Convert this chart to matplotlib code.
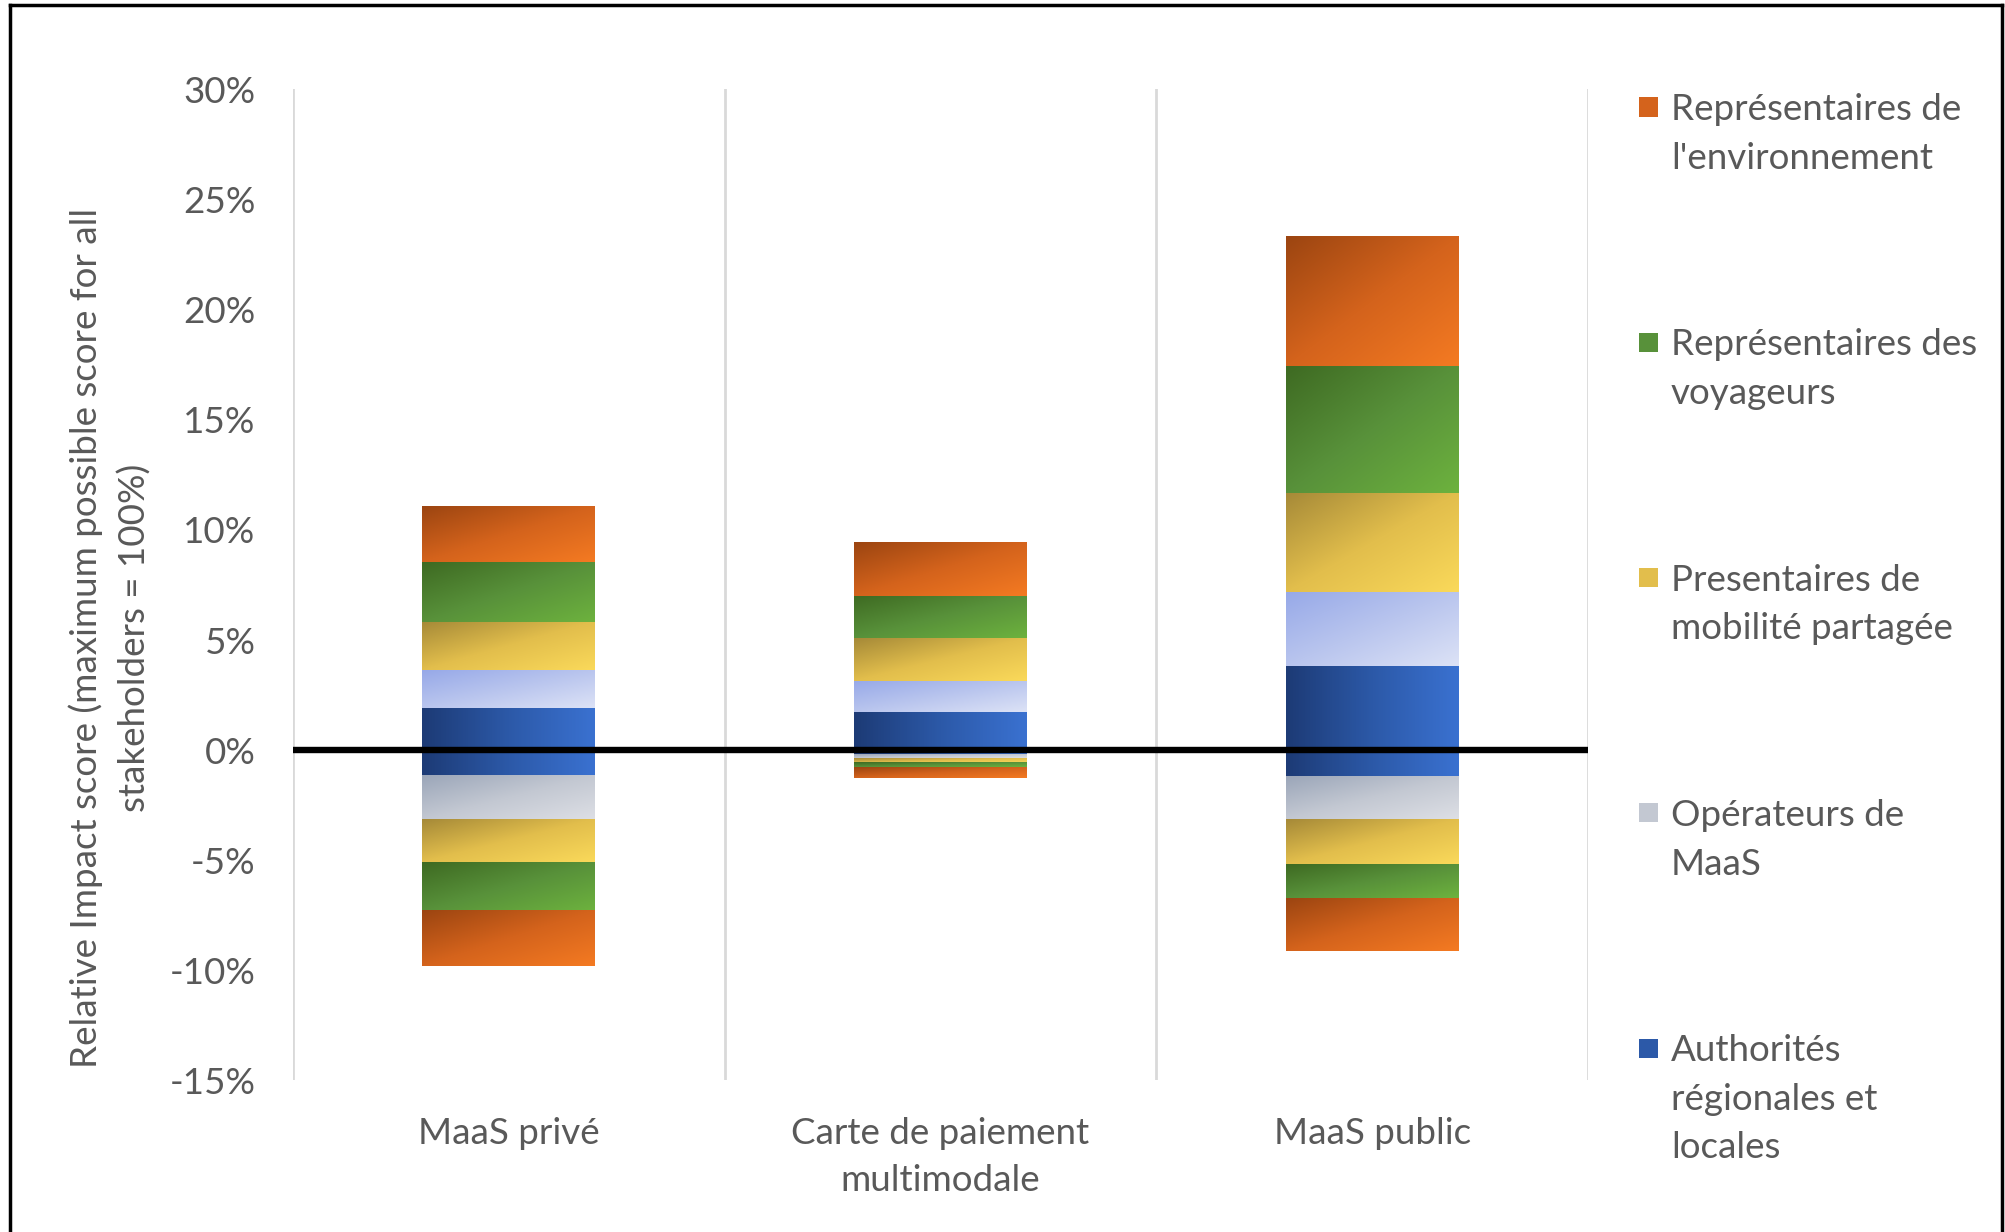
import matplotlib.pyplot as plt
import numpy as np
from matplotlib.colors import LinearSegmentedColormap
from matplotlib.patches import Rectangle
from matplotlib.lines import Line2D

plt.rcParams['font.family'] = ['Lato', 'DejaVu Sans']

categories = ['MaaS privé', 'Carte de paiement\nmultimodale', 'MaaS public']
stakeholders = ['Authorités\nrégionales et\nlocales', 'Opérateurs de\nMaaS',
                'Presentaires de\nmobilité partagée', 'Représentaires des\nvoyageurs',
                "Représentaires de\nl'environnement"]

# positive contributions (%), stacked upward from 0
auth_pos = [1.92, 1.73, 3.82]
oper_pos = [1.70, 1.43, 3.37]
mobil_pos = [2.20, 1.91, 4.50]
voy_pos = [2.70, 1.91, 5.77]
env_pos = [2.50, 2.42, 5.87]

# negative contributions (%), stacked downward from 0
auth_neg = [-1.18, -0.20, -1.24]
oper_neg = [-2.00, -0.18, -1.91]
mobil_neg = [-1.92, -0.19, -2.02]
voy_neg = [-2.22, -0.20, -1.53]
env_neg = [-2.50, -0.48, -2.40]

yticks = [-15, -10, -5, 0, 5, 10, 15, 20, 25, 30]

# gradient stops: dark top-left -> light bottom-right
grad_auth = ['#1D3B76', '#2C59A8', '#3A71D0']
grad_oper_pos = ['#97A9E8', '#B9C5EE', '#DCE2F6']
grad_oper_neg = ['#9BA6B9', '#C3C8D2', '#DDDFE5']
grad_mobil = ['#A68A38', '#E2BE4C', '#FAD95A']
grad_voy = ['#3E6A22', '#58913A', '#6DB23E']
grad_env = ['#9C4511', '#D4631C', '#F47A22']

text_col = '#595959'
fs = 26.5


def gradient_fill(ax, patch, stops, horizontal=False):
    x0, y0 = patch.get_x(), patch.get_y()
    w, h = patch.get_width(), patch.get_height()
    cmap = LinearSegmentedColormap.from_list('g', stops)
    xx, yy = np.meshgrid(np.linspace(0, 1, 80), np.linspace(0, 1, 80))
    t = xx if horizontal else (xx + yy) / 2
    ax.imshow(t, cmap=cmap, vmin=0, vmax=1, origin='upper', aspect='auto',
              extent=[x0, x0 + w, min(y0, y0 + h), max(y0, y0 + h)],
              interpolation='bilinear', zorder=2)


fig = plt.figure(figsize=(20.05, 12.32), dpi=100)
ax = fig.add_axes([0.1461, 0.1230, 0.792 - 0.1461, 0.9274 - 0.1230])

x = np.arange(len(categories))
width = 0.40

pos_series = [(auth_pos, grad_auth, True), (oper_pos, grad_oper_pos, False),
              (mobil_pos, grad_mobil, False), (voy_pos, grad_voy, False),
              (env_pos, grad_env, False)]
neg_series = [(auth_neg, grad_auth, True), (oper_neg, grad_oper_neg, False),
              (mobil_neg, grad_mobil, False), (voy_neg, grad_voy, False),
              (env_neg, grad_env, False)]

for series in (pos_series, neg_series):
    bottom = np.zeros(len(categories))
    for vals, stops, horiz in series:
        bars = ax.bar(x, vals, width, bottom=bottom, color=stops[1], linewidth=0, zorder=1)
        for p in bars:
            gradient_fill(ax, p, stops, horiz)
        bottom = bottom + np.array(vals)

ax.axhline(0, color='black', lw=4.6, zorder=5)
for xv in np.arange(-0.5, len(categories), 1.0):
    ax.axvline(xv, color='#D9D9D9', lw=2, zorder=0)

ax.set_xlim(-0.5, len(categories) - 0.5)
ax.set_ylim(-15, 30)
ax.set_yticks(yticks)
ax.set_yticklabels([f'{v}%' for v in yticks])
ax.set_xticks(x)
ax.set_xticklabels(categories, linespacing=1.55)
ax.tick_params(axis='both', length=0, labelsize=fs, labelcolor=text_col)
ax.tick_params(axis='y', pad=27)
ax.tick_params(axis='x', pad=26)
for s in ax.spines.values():
    s.set_visible(False)

fig.text(110 / 2005, 1 - 638 / 1232,
         'Relative Impact score (maximum possible score for all\nstakeholders = 100%)',
         rotation=90, ha='center', va='center', multialignment='center',
         fontsize=fs, color=text_col, linespacing=1.54)

# legend on the right, top entry first
legend_stops = [grad_auth, grad_oper_neg, grad_mobil, grad_voy, grad_env]
W, H = 2005, 1232
sq = 19
for k, i in enumerate(range(len(stakeholders) - 1, -1, -1)):
    yc = 107 + k * 235.3
    fig.patches.append(Rectangle((1639 / W, 1 - (yc + sq / 2) / H), sq / W, sq / H,
                                 transform=fig.transFigure,
                                 facecolor=legend_stops[i][1], edgecolor='none'))
    for j, line in enumerate(stakeholders[i].split('\n')):
        fig.text(1671 / W, 1 - (yc + j * 48.6 + 13) / H, line, ha='left', va='baseline',
                 fontsize=fs, color=text_col)

# chart border
for xs, ys in [((10, 10), (5, 1232)), ((10, 2002), (5, 5)), ((2002, 2002), (5, 1232))]:
    fig.lines.append(Line2D([v / W for v in xs], [1 - v / H for v in ys],
                            transform=fig.transFigure, color='black', lw=2.5))

fig.savefig('out.png', dpi=100)
